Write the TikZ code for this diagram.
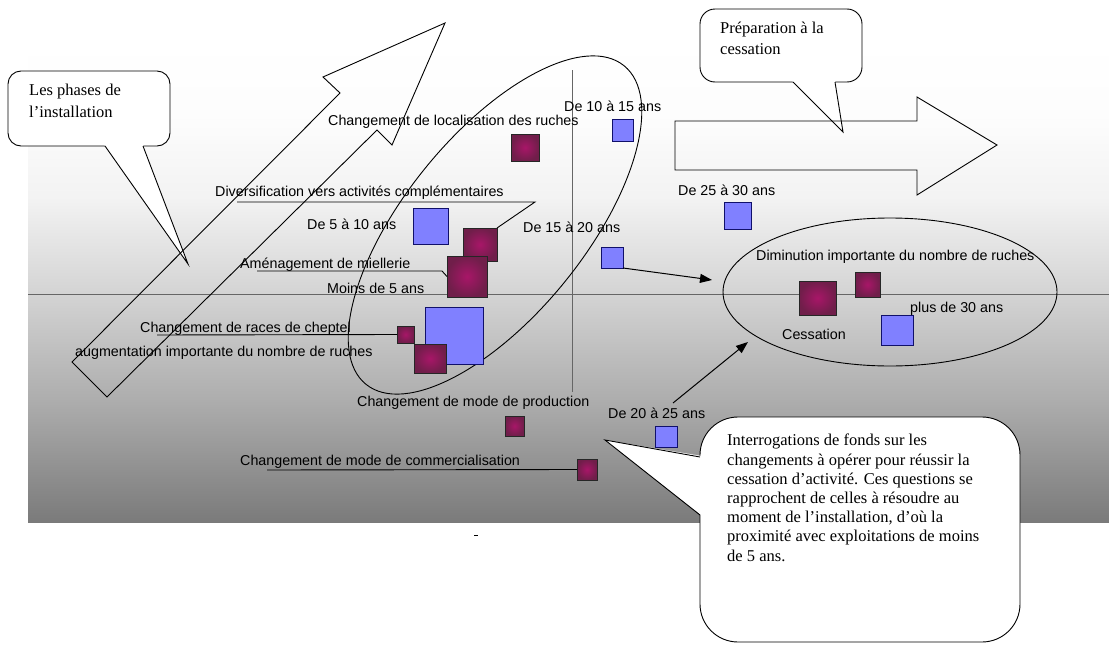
\documentclass[tikz,border=0pt]{standalone}
\usepackage{fontspec}
\setmainfont{Liberation Serif}
\newfontfamily\arialf{Liberation Sans}
\usetikzlibrary{arrows.meta}
\definecolor{sqblue}{HTML}{8080FF}
\definecolor{sqnavy}{HTML}{10106A}
\definecolor{plumin}{RGB}{168,22,104}
\definecolor{plumout}{RGB}{112,30,74}
\pgfdeclareverticalshading{chartbg}{100bp}{color(0bp)=(black!52); color(25bp)=(black!52); color(29.4bp)=(black!45); color(37.7bp)=(black!32); color(48.7bp)=(black!17); color(58.4bp)=(black!5); color(66.7bp)=(black!1); color(75bp)=(white); color(100bp)=(white)}
\begin{document}
\begin{tikzpicture}[x=1pt,y=-1pt,
  lbl/.style={anchor=west, inner sep=0pt, font=\arialf\fontsize{14.3}{16}\selectfont},
  bsq/.style={draw=sqnavy, line width=0.9pt, fill=sqblue, inner sep=0pt, outer sep=0pt},
  psq/.style={draw=black!85, line width=0.9pt, shade, inner color=plumin, outer color=plumout, inner sep=0pt, outer sep=0pt},
  outl/.style={draw=black, line width=0.9pt},
  leader/.style={draw=black, line width=0.9pt},
  conn/.style={draw=black, line width=1pt, -{Triangle[length=12pt,width=9pt]}},
  axisl/.style={draw=black!60, line width=0.8pt},
  callout/.style={draw=black, line width=0.9pt, fill=white},
  ctext/.style={anchor=north west, inner sep=0pt, align=left}
]
\useasboundingbox (0,0) rectangle (1109,645);
% chart background
\shade[shading=chartbg] (28,40) rectangle (1109,522);
% axes
\draw[axisl] (28,294) -- (1109,294);
\draw[axisl] (572,70) -- (572,392);
% tilted ellipse
\draw[outl, rotate around={51:(495,225)}] (495,225) ellipse [x radius=205, y radius=90];
% right ellipse
\draw[outl] (890,292) ellipse [x radius=167, y radius=74];

% callout: Les phases
\draw[callout, rounded corners=13] (8,71) rectangle (170,146);
\fill[white] (104,144) -- (105,146) -- (188,264) -- (143,146) -- (144,144) -- cycle;
\draw[outl] (105,146) -- (188,264) -- (143,146);
\node[ctext, font=\fontsize{16.5}{22}\selectfont] (tphases) at (29,84) {Les phases de\\l’installation};

% callout: Preparation
\draw[callout, rounded corners=15] (700,9) rectangle (862,82);
\fill[white] (792,80) -- (793,82) -- (843,132) -- (835,82) -- (836,80) -- cycle;
\draw[outl] (793,82) -- (843,132) -- (835,82);
\node[ctext, font=\fontsize{16.5}{21}\selectfont] (tprep) at (720,22) {Préparation à la\\cessation};

% left block arrow
\draw[outl] (72,362) -- (340,93) -- (323,77) -- (445,23) -- (392,145) -- (377,130) -- (107,397) -- cycle;
% right block arrow
\draw[outl] (675,121) -- (917,121) -- (917,97) -- (997,145) -- (917,195) -- (917,170) -- (675,170) -- cycle;

% leader lines coordinates
\coordinate (divL) at (237,202);
\coordinate (divR) at (535,202);
\coordinate (mielL) at (257,271);
\coordinate (mielR) at (442,271);
\coordinate (raceL) at (157,335);
\coordinate (commL) at (267,470);

% squares
\node[bsq, minimum width=58, minimum height=57] (s05) at (454,335.5) {};
\node[bsq, minimum width=21, minimum height=22] (s1015) at (622.5,130) {};
\node[bsq, minimum width=27, minimum height=27] (s2530) at (737.5,215.5) {};
\node[bsq, minimum width=35, minimum height=36] (s510) at (430.5,226) {};
\node[bsq, minimum width=22, minimum height=21] (s1520) at (612,257.5) {};
\node[bsq, minimum width=22, minimum height=21] (s2025) at (666,436.5) {};
\node[bsq, minimum width=32, minimum height=30] (s30) at (897,330) {};
\node[psq, minimum width=28, minimum height=27] (pLoc) at (525,147.5) {};
\node[psq, minimum width=34, minimum height=33] (pDiv) at (480,244.5) {};
\node[psq, minimum width=40, minimum height=41] (pMiel) at (467,276.5) {};
\node[psq, minimum width=17, minimum height=17] (pRace) at (405.5,334.5) {};
\node[psq, minimum width=32, minimum height=29] (pAug) at (430,358.5) {};
\node[psq, minimum width=19, minimum height=20] (pProd) at (514.5,426) {};
\node[psq, minimum width=20, minimum height=21] (pComm) at (587,469.5) {};
\node[psq, minimum width=37, minimum height=34] (pCess) at (817.5,298) {};
\node[psq, minimum width=25, minimum height=25] (pDim) at (867.5,284.5) {};

% leader lines
\draw[leader] (divL) -- (divR) -- (pDiv.north east);
\draw[leader] (mielL) -- (mielR) -- (pMiel.west);
\draw[leader] (raceL) -- (pRace.west);
\draw[leader] (commL) -- (pComm.west);

% labels
\node[lbl] (lLoc) at (328,122) {Changement de localisation des ruches};
\node[lbl] (l1015) at (564,106) {De 10 à 15 ans};
\node[lbl] (lDiv) at (215,193) {Diversification vers activités complémentaires};
\node[lbl] (l510) at (307,224) {De 5 à 10 ans};
\node[lbl] (l1520) at (523,227) {De 15 à 20 ans};
\node[lbl] (l2530) at (678,190) {De 25 à 30 ans};
\node[lbl] (lMiel) at (240,265) {Aménagement de miellerie};
\node[lbl] (l05) at (327,288) {Moins de 5 ans};
\node[lbl] (lRace) at (140,329) {Changement de races de cheptel};
\node[lbl] (lAug) at (75,353) {augmentation importante du nombre de ruches};
\node[lbl] (lProd) at (357,403) {Changement de mode de production};
\node[lbl] (l2025) at (608,413) {De 20 à 25 ans};
\node[lbl] (lComm) at (240,462) {Changement de mode de commercialisation};
\node[lbl] (lDim) at (756,257) {Diminution importante du nombre de ruches};
\node[lbl] (lCess) at (782,334) {Cessation};
\node[lbl] (l30) at (910,309) {plus de 30 ans};

% big callout
\draw[callout, rounded corners=38] (700,417) rectangle (1020,642);
\fill[white] (702,456) -- (605,440) -- (702,516) -- cycle;
\draw[outl] (700,457) -- (605,440) -- (700,515);
\node[ctext, font=\fontsize{16.5}{19.2}\selectfont] (tbig) at (727,434) {Interrogations de fonds sur les\\changements à opérer pour réussir la\\cessation d’activité. Ces questions se\\rapprochent de celles à résoudre au\\moment de l’installation, d’où la\\proximité avec exploitations de moins\\de 5 ans.};

% connectors
\coordinate (a1end) at (712,280);
\coordinate (a2start) at (673,403);
\coordinate (a2end) at (748,342);
\draw[conn] (s1520.south east) -- (a1end);
\draw[conn] (a2start) -- (a2end);

% stray mark
\draw[line width=0.8pt] (474,535) -- (478,535);
\end{tikzpicture}
\end{document}
